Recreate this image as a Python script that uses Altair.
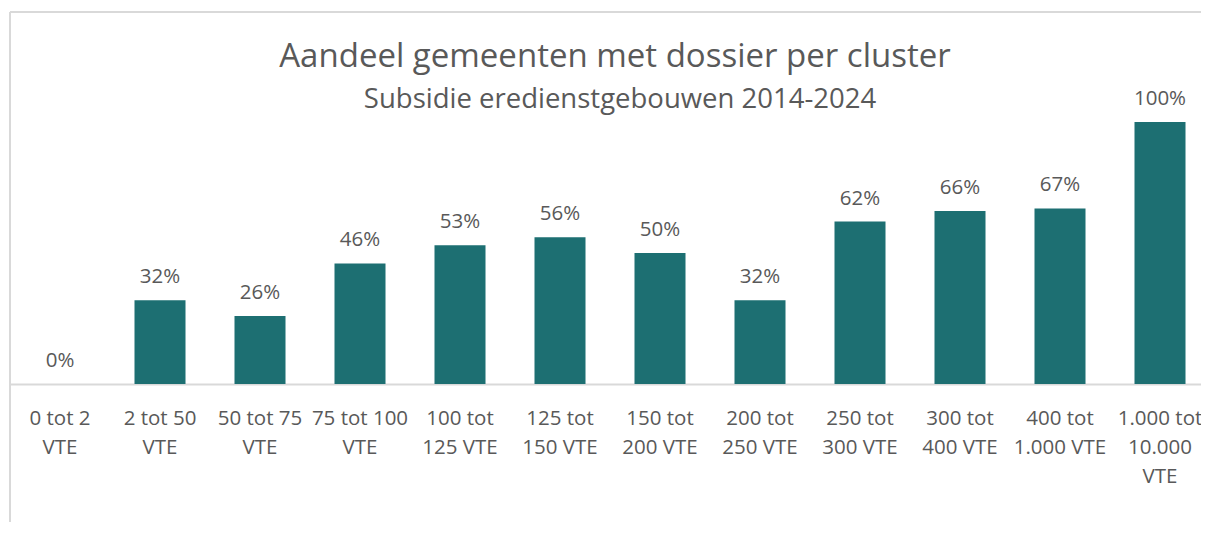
import altair as alt
import pandas as pd

categories = [
    "0 tot 2|VTE", "2 tot 50|VTE", "50 tot 75|VTE", "75 tot 100|VTE",
    "100 tot|125 VTE", "125 tot|150 VTE", "150 tot|200 VTE", "200 tot|250 VTE",
    "250 tot|300 VTE", "300 tot|400 VTE", "400 tot|1.000 VTE", "1.000 tot|10.000|VTE",
]
shares = [0.00, 0.32, 0.26, 0.46, 0.53, 0.56, 0.50, 0.32, 0.62, 0.66, 0.67, 1.00]

title_text = "Aandeel gemeenten met dossier per cluster"
subtitle_text = "Subsidie eredienstgebouwen 2014-2024"

FONT = "Open Sans"
TEXT_COLOR = "#595959"
BAR_COLOR = "#1D6F72"
LINE_COLOR = "#D9D9D9"

W, H = 1191, 372
BOTTOM = 138

df = pd.DataFrame({"cat": categories, "share": shares})

x_enc = alt.X(
    "cat:N", sort=categories, title=None,
    scale=alt.Scale(paddingInner=0.49, paddingOuter=0.2, align=0.6125),
    axis=alt.Axis(
        labelExpr="split(datum.value, '|')", labelAngle=0, labelFont=FONT,
        labelFontSize=20.5, labelColor=TEXT_COLOR, labelLineHeight=29,
        labelPadding=24, ticks=False, grid=False, domainColor=LINE_COLOR,
        domainWidth=2, labelLimit=200,
    ),
)
y_enc = alt.Y("share:Q", scale=alt.Scale(domain=[0, H / 262], nice=False, zero=True), axis=None)

bars = alt.Chart(df).mark_bar(color=BAR_COLOR).encode(x=x_enc, y=y_enc)
labels = alt.Chart(df).mark_text(
    font=FONT, fontSize=20.5, color=TEXT_COLOR, dy=-17, baseline="alphabetic"
).encode(x=x_enc, y=y_enc, text=alt.Text("share:Q", format=".0%"))

one = pd.DataFrame({"k": [0]})
top_line = alt.Chart(one).mark_rule(color=LINE_COLOR, strokeWidth=2).encode(
    x=alt.value(0), x2=alt.value(W + 20), y=alt.value(0)
)
left_line = alt.Chart(one).mark_rule(color=LINE_COLOR, strokeWidth=2).encode(
    x=alt.value(0), y=alt.value(0), y2=alt.value(H + BOTTOM + 10)
)
title = alt.Chart(one).mark_text(
    font=FONT, fontSize=33, color=TEXT_COLOR, align="center", baseline="alphabetic"
).encode(x=alt.value(605), y=alt.value(55), text=alt.value(title_text))
subtitle = alt.Chart(one).mark_text(
    font=FONT, fontSize=27.5, color=TEXT_COLOR, align="center", baseline="alphabetic"
).encode(x=alt.value(610), y=alt.value(96), text=alt.value(subtitle_text))

chart = alt.layer(top_line, left_line, bars, labels, title, subtitle).properties(
    width=W, height=H,
    autosize=alt.AutoSizeParams(type="none"),
    padding={"left": 2, "top": 4, "right": 0, "bottom": BOTTOM},
).configure_view(strokeOpacity=0)

chart.save("out.html", embed_options={"renderer": "svg", "actions": False})
